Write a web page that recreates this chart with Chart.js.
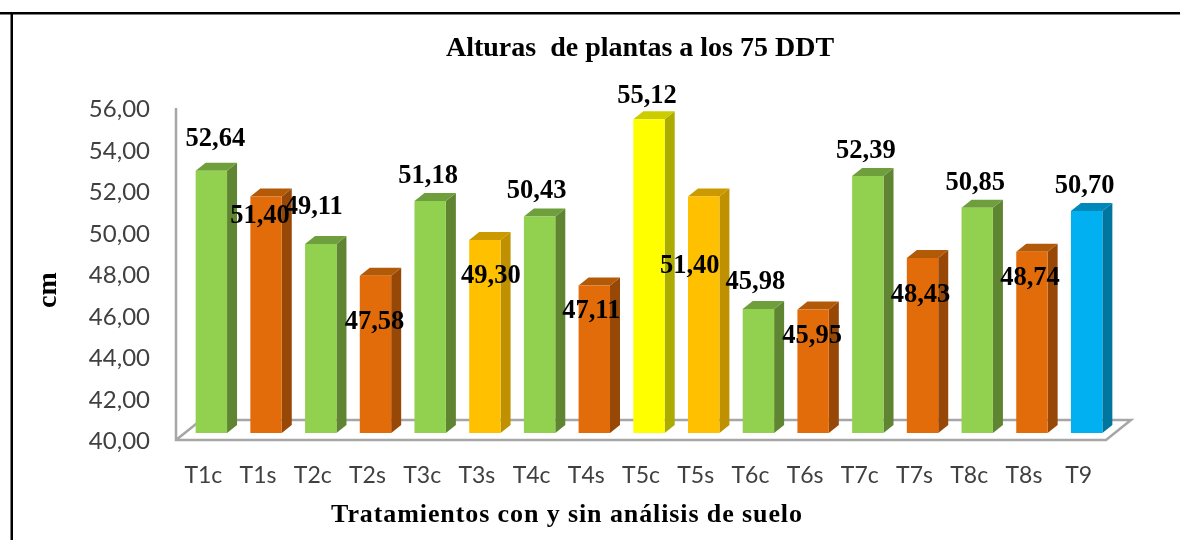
<!DOCTYPE html>
<html>
<head>
<meta charset="utf-8">
<script src="https://cdn.jsdelivr.net/npm/chart.js@4"></script>
<style>
    html, body { margin: 0; padding: 0; background: #fff; }
    #wrap { width: 1180px; height: 540px; }
</style>
</head>
<body>
<div id="wrap"><canvas id="chart" width="1180" height="540"></canvas></div>
<script>
const categories = ['T1c','T1s','T2c','T2s','T3c','T3s','T4c','T4s','T5c','T5s','T6c','T6s','T7c','T7s','T8c','T8s','T9'];
const alturas = [52.64,51.40,49.11,47.58,51.18,49.30,50.43,47.11,55.12,51.40,45.98,45.95,52.39,48.43,50.85,48.74,50.70];

const titleText = 'Alturas  de plantas a los 75 DDT';
const xTitleText = 'Tratamientos con y sin análisis de suelo';
const yTitleText = 'cm';

// colour groups: front / side / top of each 3D bar
const GREEN = ['#92D050', '#5F8532', '#6F9E3C'];
const ORANGE = ['#E36C0A', '#974806', '#B35A08'];
const AMBER = ['#FFC000', '#BF9000', '#CC9A00'];
const YELLOW = ['#FFFF00', '#ABAB00', '#CCCC00'];
const BLUE = ['#00B0F0', '#0075A0', '#0088BB'];
const barGroups = [GREEN,ORANGE,GREEN,ORANGE,GREEN,AMBER,GREEN,ORANGE,YELLOW,AMBER,GREEN,ORANGE,GREEN,ORANGE,GREEN,ORANGE,BLUE];

// the value labels are placed by hand in the original, so nudge each one from its bar
const labelNudge = [[12,-40],[2,11],[1,-45],[7,38],[6,-33],[14,28],[5,-34],[5,17],[6,-32],[-6,61],[5,-35],[7,18],[6,-33],[6,29],[6,-33],[6,18],[6,-33]];

const AXIS_GREY = '#A6A6A6';
const AXIS_LIFT = 1.5;                // drawn axis lines sit a little above the tick label centres
const BAR_SHIFT = { x: 8, y: 8.5 };   // bars stand a bit behind the front edge of the floor
const BAR_DEPTH = { x: 10, y: 8 };
const FLOOR_DEPTH = { x: 25, y: 20 };

function face(ctx, pts, color) {
    ctx.fillStyle = color;
    ctx.beginPath();
    pts.forEach((p, i) => i ? ctx.lineTo(p[0], p[1]) : ctx.moveTo(p[0], p[1]));
    ctx.closePath();
    ctx.fill();
}

const chart3d = {
    id: 'chart3d',
    beforeDraw(chart) {
        const { ctx } = chart;
        ctx.save();
        ctx.fillStyle = '#fff';
        ctx.fillRect(0, 0, chart.width, chart.height);
        // frame, cut off by the right and bottom of the picture
        ctx.fillStyle = '#000';
        ctx.fillRect(0, 12, chart.width, 2.5);
        ctx.fillRect(10.5, 12, 2.5, chart.height);
        ctx.restore();
    },
    beforeDatasetsDraw(chart) {
        const { ctx, chartArea: a } = chart;
        const top = a.top - AXIS_LIFT, bottom = a.bottom - AXIS_LIFT;
        // value axis and floor, behind the bars
        ctx.save();
        ctx.strokeStyle = AXIS_GREY;
        ctx.lineWidth = 2.5;
        ctx.beginPath();
        ctx.moveTo(a.left, top);
        ctx.lineTo(a.left, bottom);
        ctx.lineTo(a.right, bottom);
        ctx.lineTo(a.right + FLOOR_DEPTH.x, bottom - FLOOR_DEPTH.y);
        ctx.lineTo(a.left + FLOOR_DEPTH.x, bottom - FLOOR_DEPTH.y);
        ctx.lineTo(a.left, bottom);
        ctx.stroke();
        ctx.restore();

        ctx.save();
        ctx.translate(BAR_SHIFT.x, -BAR_SHIFT.y);
        chart.getDatasetMeta(0).data.forEach((bar, i) => {
            const l = bar.x - bar.width / 2, r = bar.x + bar.width / 2;
            const dx = BAR_DEPTH.x, dy = BAR_DEPTH.y;
            face(ctx, [[r, bar.y], [r + dx, bar.y - dy], [r + dx, bar.base - dy], [r, bar.base]], barGroups[i][1]);
            face(ctx, [[l, bar.y], [l + dx, bar.y - dy], [r + dx, bar.y - dy], [r, bar.y]], barGroups[i][2]);
        });
    },
    afterDatasetsDraw(chart) {
        const { ctx } = chart;
        ctx.restore();

        ctx.save();
        ctx.fillStyle = '#000';
        ctx.textAlign = 'center';
        ctx.textBaseline = 'middle';
        ctx.font = 'bold 26.5px "Liberation Serif"';
        chart.getDatasetMeta(0).data.forEach((bar, i) => {
            const txt = alturas[i].toFixed(2).replace('.', ',');
            ctx.fillText(txt, bar.x + labelNudge[i][0], bar.y + labelNudge[i][1]);
        });

        ctx.font = 'bold 28px "Liberation Serif"';
        ctx.fillText(titleText, 640, 49);
        ctx.font = 'bold 26px "Liberation Serif"';
        ctx.letterSpacing = '0.9px';
        ctx.fillText(xTitleText, 567, 515);
        ctx.letterSpacing = '0px';
        ctx.font = 'bold 28px "Liberation Serif"';
        ctx.translate(49, 290);
        ctx.rotate(-Math.PI / 2);
        ctx.fillText(yTitleText, 0, 0);
        ctx.restore();
    }
};

new Chart(document.getElementById('chart'), {
    type: 'bar',
    data: {
        labels: categories,
        datasets: [{
            data: alturas,
            base: 40,
            backgroundColor: barGroups.map(g => g[0]),
            barPercentage: 0.574,
            categoryPercentage: 1,
            clip: false
        }]
    },
    plugins: [chart3d],
    options: {
        responsive: false,
        animation: false,
        layout: { padding: { left: 0, right: 74, top: 109.5, bottom: 0 } },
        plugins: { legend: { display: false }, title: { display: false }, tooltip: { enabled: false } },
        scales: {
            x: {
                grid: { display: false, drawTicks: false },
                border: { display: false },
                ticks: { color: '#404040', font: { family: 'Lato', size: 23 }, padding: 20, maxRotation: 0, autoSkip: false },
                afterFit(scale) { scale.height = 98.5; }
            },
            y: {
                min: 40,
                max: 56,
                grid: { display: false, drawTicks: false },
                border: { display: false },
                ticks: {
                    stepSize: 2,
                    color: '#404040',
                    font: { family: 'Lato', size: 24 },
                    padding: 26,
                    callback: v => v.toFixed(2).replace('.', ',')
                },
                afterFit(scale) { scale.width = 176; }
            }
        }
    }
});
</script>
</body>
</html>
